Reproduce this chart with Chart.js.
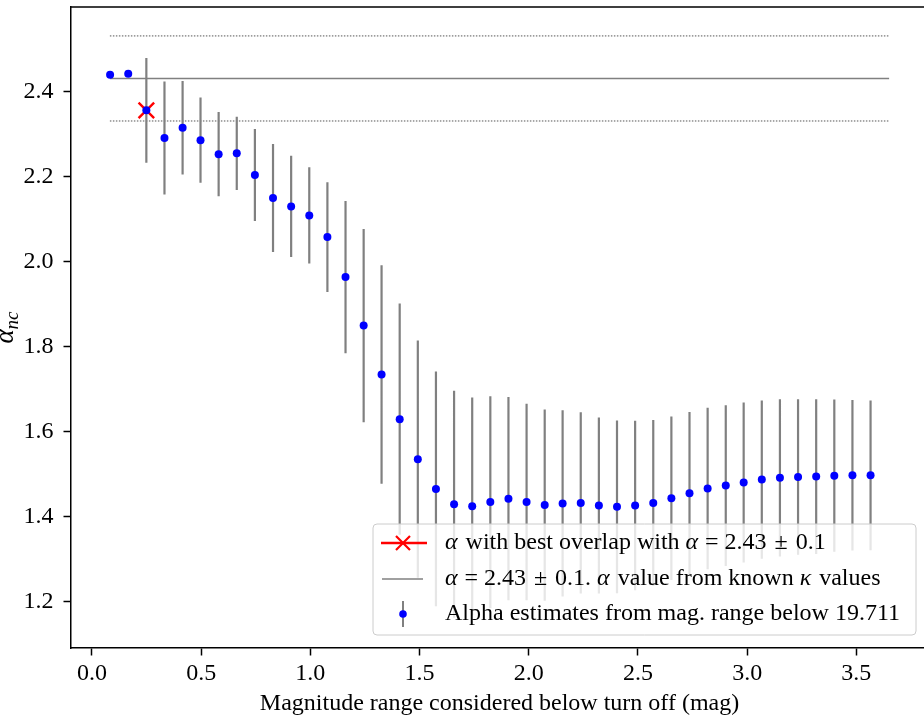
<!DOCTYPE html>
<html>
<head>
<meta charset="utf-8">
<script src="https://cdn.jsdelivr.net/npm/chart.js@4.4.1/dist/chart.umd.min.js"></script>
<style>
  html, body { margin: 0; padding: 0; background: #fff; overflow: hidden; }
  #wrap { width: 940px; height: 718px; }
</style>
</head>
<body>
<div id="wrap"><canvas id="chart" width="940" height="718"></canvas></div>
<script>
// magnitude range below turn off (x) and the alpha estimate with its error
const magRange = [0.083, 0.166, 0.249, 0.332, 0.415, 0.497, 0.580, 0.663, 0.746, 0.829,
  0.912, 0.995, 1.078, 1.161, 1.244, 1.326, 1.409, 1.492, 1.575, 1.658,
  1.741, 1.824, 1.907, 1.990, 2.073, 2.155, 2.238, 2.321, 2.404, 2.487,
  2.570, 2.653, 2.736, 2.819, 2.902, 2.984, 3.067, 3.150, 3.233, 3.316,
  3.399, 3.482, 3.565];
const alphaEst = [2.439, 2.441, 2.355, 2.290, 2.314, 2.285, 2.252, 2.254, 2.203, 2.149,
  2.129, 2.108, 2.057, 1.963, 1.849, 1.734, 1.629, 1.535, 1.465, 1.429,
  1.424, 1.434, 1.442, 1.434, 1.427, 1.431, 1.432, 1.426, 1.423, 1.426,
  1.432, 1.443, 1.455, 1.466, 1.473, 1.480, 1.487, 1.491, 1.493, 1.494,
  1.496, 1.497, 1.497];
const alphaErr = [0, 0, 0.123, 0.133, 0.110, 0.100, 0.099, 0.086, 0.108, 0.127,
  0.119, 0.113, 0.129, 0.179, 0.227, 0.257, 0.272, 0.279, 0.276, 0.267,
  0.256, 0.249, 0.239, 0.231, 0.225, 0.219, 0.213, 0.207, 0.203, 0.199,
  0.195, 0.192, 0.191, 0.190, 0.189, 0.188, 0.186, 0.185, 0.183, 0.182,
  0.179, 0.177, 0.176];

// best overlap point
const bestX = [0.249];
const bestY = [2.355];

// known alpha from kappa values
const refAlpha = 2.43;
const refErr = 0.1;
const refLineX = [0.082, 3.65];

const xTicks = [0.0, 0.5, 1.0, 1.5, 2.0, 2.5, 3.0, 3.5];
const yTicks = [1.2, 1.4, 1.6, 1.8, 2.0, 2.2, 2.4];

const SERIF = "'Liberation Serif', 'DejaVu Serif', serif";

const errSegments = [];
magRange.forEach((x, i) => {
  if (!alphaErr[i]) {
    return;
  }
  errSegments.push({ x: x, y: alphaEst[i] - alphaErr[i] });
  errSegments.push({ x: x, y: alphaEst[i] + alphaErr[i] });
  errSegments.push({ x: x, y: null });
});

const hline = (y) => refLineX.map((x) => ({ x: x, y: y }));

// top and right spines
const framePlugin = {
  id: "frame",
  afterDraw(chart) {
    const ctx = chart.ctx;
    const a = chart.chartArea;
    ctx.save();
    ctx.strokeStyle = "#000";
    ctx.lineWidth = 1.5;
    ctx.beginPath();
    ctx.moveTo(a.left, a.top);
    ctx.lineTo(a.right, a.top);
    ctx.lineTo(a.right, a.bottom);
    ctx.stroke();
    ctx.restore();
  }
};

// y axis label alpha_nc, rotated
const yLabelPlugin = {
  id: "yLabel",
  afterDraw(chart) {
    const ctx = chart.ctx;
    const a = chart.chartArea;
    ctx.save();
    ctx.translate(13, (a.top + a.bottom) / 2);
    ctx.rotate(-Math.PI / 2);
    ctx.fillStyle = "#000";
    ctx.textBaseline = "alphabetic";
    ctx.font = "italic 27px " + SERIF;
    const w1 = ctx.measureText("α").width;
    ctx.font = "italic 19px " + SERIF;
    const w2 = ctx.measureText("nc").width;
    const start = -(w1 + w2) / 2;
    ctx.font = "italic 27px " + SERIF;
    ctx.fillText("α", start, 0);
    ctx.font = "italic 19px " + SERIF;
    ctx.fillText("nc", start + w1, 5);
    ctx.restore();
  }
};

const legendPlugin = {
  id: "customLegend",
  afterDraw(chart) {
    const ctx = chart.ctx;
    const box = { x: 373, y: 524, w: 543, h: 111 };
    ctx.save();
    ctx.beginPath();
    ctx.roundRect(box.x, box.y, box.w, box.h, 4);
    ctx.fillStyle = "rgba(255,255,255,0.8)";
    ctx.fill();
    ctx.strokeStyle = "#cccccc";
    ctx.lineWidth = 1;
    ctx.stroke();

    const eqText = "\u2009= 2.43 \u200a±\u200a 0.1";
    const rows = [
      [{ t: "α", i: true }, { t: " with best overlap with " }, { t: "α", i: true }, { t: eqText }],
      [{ t: "α", i: true }, { t: eqText + ". " }, { t: "α", i: true }, { t: " value from known " }, { t: "κ", i: true }, { t: " values" }],
      [{ t: "Alpha estimates from mag. range below 19.711" }]
    ];
    const rowY = [543, 579, 614];
    const textX = 445;
    ctx.fillStyle = "#000";
    ctx.textBaseline = "middle";
    rows.forEach((runs, r) => {
      let x = textX;
      runs.forEach((run) => {
        ctx.font = (run.i ? "italic " : "") + "24px " + SERIF;
        ctx.fillText(run.t, x, rowY[r]);
        x += ctx.measureText(run.t).width + (run.i ? 2 : 0);
      });
    });

    // handles
    ctx.lineCap = "butt";
    ctx.strokeStyle = "red";
    ctx.lineWidth = 2.5;
    ctx.beginPath();
    ctx.moveTo(381, rowY[0]);
    ctx.lineTo(427, rowY[0]);
    ctx.stroke();
    ctx.lineWidth = 2.2;
    ctx.beginPath();
    ctx.moveTo(396, rowY[0] - 7);
    ctx.lineTo(410, rowY[0] + 7);
    ctx.moveTo(410, rowY[0] - 7);
    ctx.lineTo(396, rowY[0] + 7);
    ctx.stroke();

    ctx.strokeStyle = "#808080";
    ctx.lineWidth = 1.5;
    ctx.beginPath();
    ctx.moveTo(382, rowY[1]);
    ctx.lineTo(423, rowY[1]);
    ctx.stroke();

    ctx.lineWidth = 2;
    ctx.beginPath();
    ctx.moveTo(403, rowY[2] - 13);
    ctx.lineTo(403, rowY[2] + 13);
    ctx.stroke();
    ctx.fillStyle = "#0000ff";
    ctx.beginPath();
    ctx.arc(403, rowY[2], 3.8, 0, Math.PI * 2);
    ctx.fill();
    ctx.restore();
  }
};

new Chart(document.getElementById("chart"), {
  type: "scatter",
  data: {
    datasets: [
      {
        label: "Alpha estimates from mag. range below 19.711",
        data: magRange.map((x, i) => ({ x: x, y: alphaEst[i] })),
        pointRadius: 4,
        pointBackgroundColor: "#0000ff",
        pointBorderWidth: 0,
        showLine: false
      },
      {
        label: "error bars",
        data: errSegments,
        showLine: true,
        spanGaps: false,
        borderColor: "#808080",
        borderWidth: 2.2,
        pointRadius: 0
      },
      {
        label: "α with best overlap",
        data: bestX.map((x, i) => ({ x: x, y: bestY[i] })),
        pointStyle: "crossRot",
        pointRadius: 11,
        pointBorderColor: "#ff0000",
        pointBorderWidth: 2.4,
        showLine: false
      },
      {
        label: "alpha",
        data: hline(refAlpha),
        showLine: true,
        borderColor: "#808080",
        borderWidth: 1.6,
        pointRadius: 0
      },
      {
        label: "alpha + err",
        data: hline(refAlpha + refErr),
        showLine: true,
        borderColor: "#555555",
        borderWidth: 1,
        borderDash: [1.5, 1.5],
        pointRadius: 0
      },
      {
        label: "alpha - err",
        data: hline(refAlpha - refErr),
        showLine: true,
        borderColor: "#555555",
        borderWidth: 1,
        borderDash: [1.5, 1.5],
        pointRadius: 0
      }
    ]
  },
  options: {
    responsive: false,
    animation: false,
    devicePixelRatio: 1,
    layout: { autoPadding: false, padding: { top: 7, right: 12, left: 0, bottom: 0 } },
    plugins: {
      legend: { display: false },
      tooltip: { enabled: false }
    },
    scales: {
      x: {
        type: "linear",
        min: -0.096,
        max: 3.828,
        afterFit: (scale) => {
          scale.height = 70;
          scale.paddingLeft = 0;
          scale.paddingRight = 0;
        },
        afterBuildTicks: (scale) => { scale.ticks = xTicks.map((v) => ({ value: v })); },
        ticks: {
          color: "#000",
          font: { family: SERIF, size: 24 },
          padding: 4,
          maxRotation: 0,
          callback: (v) => Number(v).toFixed(1)
        },
        grid: {
          drawOnChartArea: false,
          drawTicks: true,
          tickLength: 7.5,
          tickWidth: 1.5,
          tickColor: "#000"
        },
        border: { display: true, color: "#000", width: 1.5 },
        title: {
          display: true,
          text: "Magnitude range considered below turn off (mag)",
          color: "#000",
          font: { family: SERIF, size: 24 },
          padding: { top: 0, bottom: 0 }
        }
      },
      y: {
        type: "linear",
        min: 1.091,
        max: 2.598,
        afterFit: (scale) => {
          scale.width = 71;
          scale.paddingTop = 0;
          scale.paddingBottom = 0;
        },
        afterBuildTicks: (scale) => { scale.ticks = yTicks.map((v) => ({ value: v })); },
        ticks: {
          color: "#000",
          font: { family: SERIF, size: 24 },
          padding: 10,
          callback: (v) => Number(v).toFixed(1)
        },
        grid: {
          drawOnChartArea: false,
          drawTicks: true,
          tickLength: 7.5,
          tickWidth: 1.5,
          tickColor: "#000"
        },
        border: { display: true, color: "#000", width: 1.5 }
      }
    }
  },
  plugins: [framePlugin, yLabelPlugin, legendPlugin]
});
</script>
</body>
</html>
